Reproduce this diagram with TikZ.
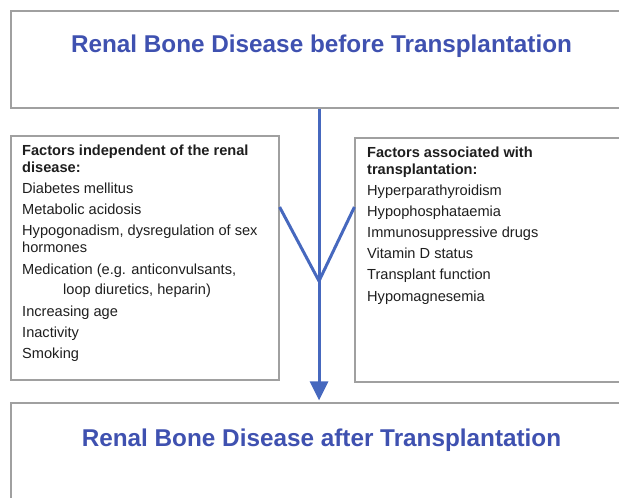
\documentclass[tikz,border=0pt]{standalone}
\usepackage{fontspec}
\setmainfont{Liberation Sans}
\usetikzlibrary{arrows.meta}
\definecolor{titleblue}{HTML}{3F51B0}
\definecolor{flowblue}{HTML}{4668BE}
\definecolor{boxgray}{HTML}{A0A0A0}
\definecolor{textgray}{HTML}{1E1E1E}
\tikzset{
  panel/.style={draw=boxgray, line width=1.2pt, inner sep=0pt},
  title/.style={text=titleblue, inner sep=0pt, font=\fontsize{24.3}{28}\selectfont\bfseries},
  item/.style={anchor=base west, inner sep=0pt, text=textgray, font=\fontsize{14.6}{17}\selectfont},
  head/.style={item, font=\fontsize{14.6}{17}\selectfont\bfseries},
  flow/.style={draw=flowblue, line width=3pt, line join=round}
}
\begin{document}
\begin{tikzpicture}[x=1pt,y=-1pt]
\useasboundingbox (0,0) rectangle (619,498);
\clip (0,0) rectangle (619,498);

\node[panel, minimum width=620pt, minimum height=97pt] (before) at (321,59.5) {};
\node[panel, minimum width=268pt, minimum height=244pt] (indep) at (145,258) {};
\node[panel, minimum width=285pt, minimum height=244pt] (assoc) at (497.5,260) {};
\node[panel, minimum width=620pt, minimum height=120pt] (after) at (321,463) {};

\node[title] (beforetitle) at (321.5,46) {Renal Bone Disease before Transplantation};
\node[title] (aftertitle) at (321.5,440) {Renal Bone Disease after Transplantation};

\node[head] (indephead1) at (22,155) {Factors independent of the renal};
\node[head] (indephead2) at (22,172) {disease:};
\foreach \x/\y/\lab [count=\i] in {22/193/Diabetes mellitus, 22/214/Metabolic acidosis,
  22/235/{Hypogonadism, dysregulation of sex}, 22/252/hormones,
  22/274/{Medication (e.g. anticonvulsants,}, 63/294/{loop diuretics, heparin)},
  22/316/Increasing age, 22/337/Inactivity, 22/358/Smoking}
  \node[item] (indep\i) at (\x,\y) {\lab};

\node[head] (assochead1) at (367,157) {Factors associated with};
\node[head] (assochead2) at (367,174) {transplantation:};
\foreach \y/\lab [count=\i] in {195/Hyperparathyroidism, 216/Hypophosphataemia,
  237/Immunosuppressive drugs, 258/Vitamin D status, 279/Transplant function,
  301/Hypomagnesemia}
  \node[item] (assoc\i) at (367,\y) {\lab};

\coordinate (vtop) at (319,207);
\coordinate (fork) at (319,281);
\draw[flow, -{Triangle[width=18pt,length=19pt]}, shorten >=2pt] (before.south -| fork) -- (after.north -| fork);
\draw[flow] (indep.east |- vtop) -- (fork) -- (assoc.west |- vtop);
\end{tikzpicture}
\end{document}
